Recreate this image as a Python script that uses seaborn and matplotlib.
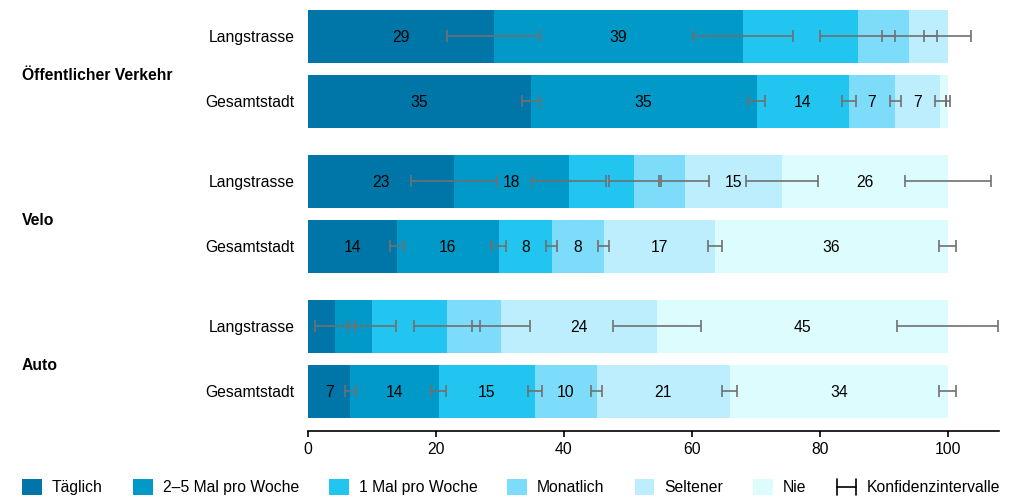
import numpy as np
import pandas as pd
import matplotlib
matplotlib.use('Agg')
import matplotlib.pyplot as plt
import seaborn as sns
from matplotlib.patches import Patch
from matplotlib.lines import Line2D
from matplotlib.legend_handler import HandlerBase
from matplotlib.transforms import blended_transform_factory


frequencies = ['Täglich', '2–5 Mal pro Woche', '1 Mal pro Woche', 'Monatlich', 'Seltener', 'Nie']
colors = ['#0076a8', '#0099c8', '#22c4f0', '#7ddcfa', '#bceefd', '#ddfcfe']
groups = ['Öffentlicher Verkehr', 'Velo', 'Auto']
places = ['Langstrasse', 'Gesamtstadt']

# shares in percent, per frequency
ov_lang = [29.0, 39.0, 17.9, 8.1, 6.0, 0.0]
ov_ges = [34.8, 35.3, 14.4, 7.3, 7.0, 1.2]
velo_lang = [22.8, 18.0, 10.1, 8.0, 15.2, 25.9]
velo_ges = [13.9, 15.9, 8.3, 8.1, 17.4, 36.4]
auto_lang = [4.2, 5.8, 11.7, 8.5, 24.4, 45.4]
auto_ges = [6.6, 13.8, 15.1, 9.6, 20.8, 34.1]

# half width of the confidence interval at the end of each segment
ci_ov_lang = [7.3, 7.8, 5.9, 4.3, 3.7, np.nan]
ci_ov_ges = [1.4, 1.4, 1.1, 0.85, 0.85, 0.35]
ci_velo_lang = [6.7, 5.8, 3.9, 3.8, 5.6, 6.7]
ci_velo_ges = [1.1, 1.15, 0.85, 0.8, 1.15, 1.35]
ci_auto_lang = [3.1, 3.7, 5.2, 4.5, 6.9, 7.9]
ci_auto_ges = [0.85, 1.1, 1.1, 0.9, 1.2, 1.35]

shares = [ov_lang, ov_ges, velo_lang, velo_ges, auto_lang, auto_ges]
cis = [ci_ov_lang, ci_ov_ges, ci_velo_lang, ci_velo_ges, ci_auto_lang, ci_auto_ges]

# layout (y in pixel-like units, top = 0)
row_gap = 65
group_extra = 15
bar_h = 52.7
row_pos = [36.35 + row_gap * i + group_extra * (i // 2) for i in range(len(shares))]
fs = 11.3

sns.set_theme(style='white', rc={'text.color': 'black', 'xtick.color': 'black',
                                 'ytick.color': 'black', 'axes.edgecolor': 'black'})
plt.rcParams['font.family'] = ['Liberation Sans', 'DejaVu Sans']

records = []
for pos, vals in zip(row_pos, shares):
    ends = np.cumsum(vals)
    for freq, end in zip(frequencies, ends):
        records.append({'pos': pos, 'freq': freq, 'end': end})
df = pd.DataFrame(records)

fig = plt.figure(figsize=(10.24, 5), dpi=100)
ax = fig.add_axes([308 / 1024, 69 / 500, 691 / 1024, 431 / 500])

# layered cumulative bars, widest first
for freq, col in reversed(list(zip(frequencies, colors))):
    sns.barplot(data=df[df['freq'] == freq], x='end', y='pos', orient='y',
                native_scale=True, width=bar_h / row_gap, color=col,
                saturation=1, errorbar=None, linewidth=0, ax=ax)

# confidence intervals and value labels
for pos, vals, ci in zip(row_pos, shares, cis):
    ends = np.cumsum(vals)
    ci = np.array(ci, dtype=float)
    ok = ~np.isnan(ci)
    ax.errorbar(ends[ok], [pos] * ok.sum(), xerr=ci[ok], fmt='none', ecolor='#707070',
                elinewidth=1.2, capsize=4.5, capthick=1.2, zorder=5)
    start = 0.0
    prev_ci_end = 0.0
    for v, end, c in zip(vals, ends, ci):
        this_ci_start = end - (0 if np.isnan(c) else c)
        if v > 2 and this_ci_start - prev_ci_end > 4.8:
            ax.text((start + end) / 2, pos, f'{v:.0f}', ha='center', va='center_baseline',
                    fontsize=fs, color='black', zorder=6)
        if not np.isnan(c):
            prev_ci_end = end + c
        start = end

ax.set_xlim(0, 108)
ax.set_ylim(431, 0)
ax.set_xticks([0, 20, 40, 60, 80, 100])
ax.set_yticks(row_pos)
ax.set_yticklabels(places * len(groups))
ax.set_xlabel('')
ax.set_ylabel('')
ax.tick_params(axis='x', length=4, width=1.2, pad=4, labelsize=fs, bottom=True)
ax.tick_params(axis='y', length=0, pad=9.5, labelsize=fs)
for side in ['top', 'right', 'left']:
    ax.spines[side].set_visible(False)
ax.spines['bottom'].set_linewidth(1.2)

# group labels at the left
trans = blended_transform_factory(fig.transFigure, ax.transData)
for g, name in enumerate(groups):
    yc = (row_pos[2 * g] + row_pos[2 * g + 1]) / 2 + 7
    ax.text(22 / 1024, yc, name, transform=trans, ha='left', va='center',
            fontsize=fs, fontweight='bold')


class CIHandler(HandlerBase):
    def create_artists(self, legend, orig_handle, xdescent, ydescent, width, height, fontsize, trans):
        x0, x1 = -xdescent, -xdescent + width
        y0, y1 = -ydescent, -ydescent + height
        ym = (y0 + y1) / 2
        lines = [Line2D([x0, x0], [y0, y1]), Line2D([x1, x1], [y0, y1]), Line2D([x0, x1], [ym, ym])]
        for ln in lines:
            ln.set_color('black')
            ln.set_linewidth(1.2)
            ln.set_transform(trans)
        return lines


ci_handle = Line2D([], [])
handles = [Patch(facecolor=c, edgecolor='none') for c in colors] + [ci_handle]
labels = frequencies + ['Konfidenzintervalle']
fig.legend(handles, labels, handler_map={ci_handle: CIHandler()}, loc='center left',
           bbox_to_anchor=(22 / 1024, 1 - 487 / 500), ncol=7, frameon=False,
           borderpad=0, borderaxespad=0, handlelength=1.27, handleheight=1.27,
           handletextpad=0.64, columnspacing=1.9, fontsize=fs)

fig.savefig('out.png', dpi=100)
